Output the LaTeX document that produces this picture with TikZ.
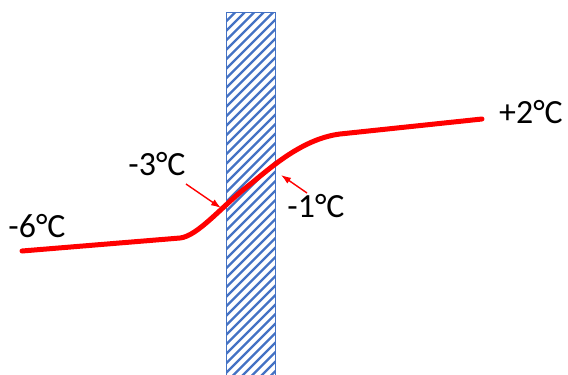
\documentclass[tikz,border=0pt]{standalone}
\usepackage{fontspec}
\setmainfont{Carlito}
\usepackage{xcolor}
\usepackage{tikz}
\usetikzlibrary{arrows.meta}

\definecolor{wallblue}{HTML}{4472C4}
\definecolor{linered}{HTML}{FF0000}

\begin{document}
\begin{tikzpicture}[x=1bp, y=-1bp,
    label/.style={font=\fontsize{34}{40}\selectfont, inner sep=0pt},
    temp/.style={draw=linered, line width=5bp, line cap=round},
    pointer/.style={draw=linered, ->, >={Latex[length=10bp,width=7bp]}, line width=1.4bp}]

    \useasboundingbox (0,0) rectangle (568,374);

    % Wall
    \begin{scope}
        \clip (226,12) rectangle (275,380);
        \foreach \k in {0,9.5,...,450} {
            \draw [wallblue, line width=2.4bp] (200,\k) -- (300,\k-100);
        }
    \end{scope}
    \draw [wallblue, line width=0.8bp] (226,380) -- (226,12) -- (275,12) -- (275,380);

    % Temperature profile
    \draw [temp] (22,251) -- (180,238)
        .. controls (198,236) and (222,206) .. (248,186)
        .. controls (266,172) and (300,139) .. (340,134) -- (482,119);

    % Labels
    \node [label] (outside) at (37,226) {-6°C};
    \node [label] (surfout) at (157,164) {-3°C};
    \node [label] (surfin) at (316,206) {-1°C};
    \node [label] (inside) at (531,112) {+2°C};

    % Pointers
    \coordinate (wallout) at (221,208);
    \coordinate (wallin) at (281,175);
    \draw [pointer] (186,184) -- (wallout);
    \draw [pointer] (307,193) -- (wallin);

\end{tikzpicture}
\end{document}
